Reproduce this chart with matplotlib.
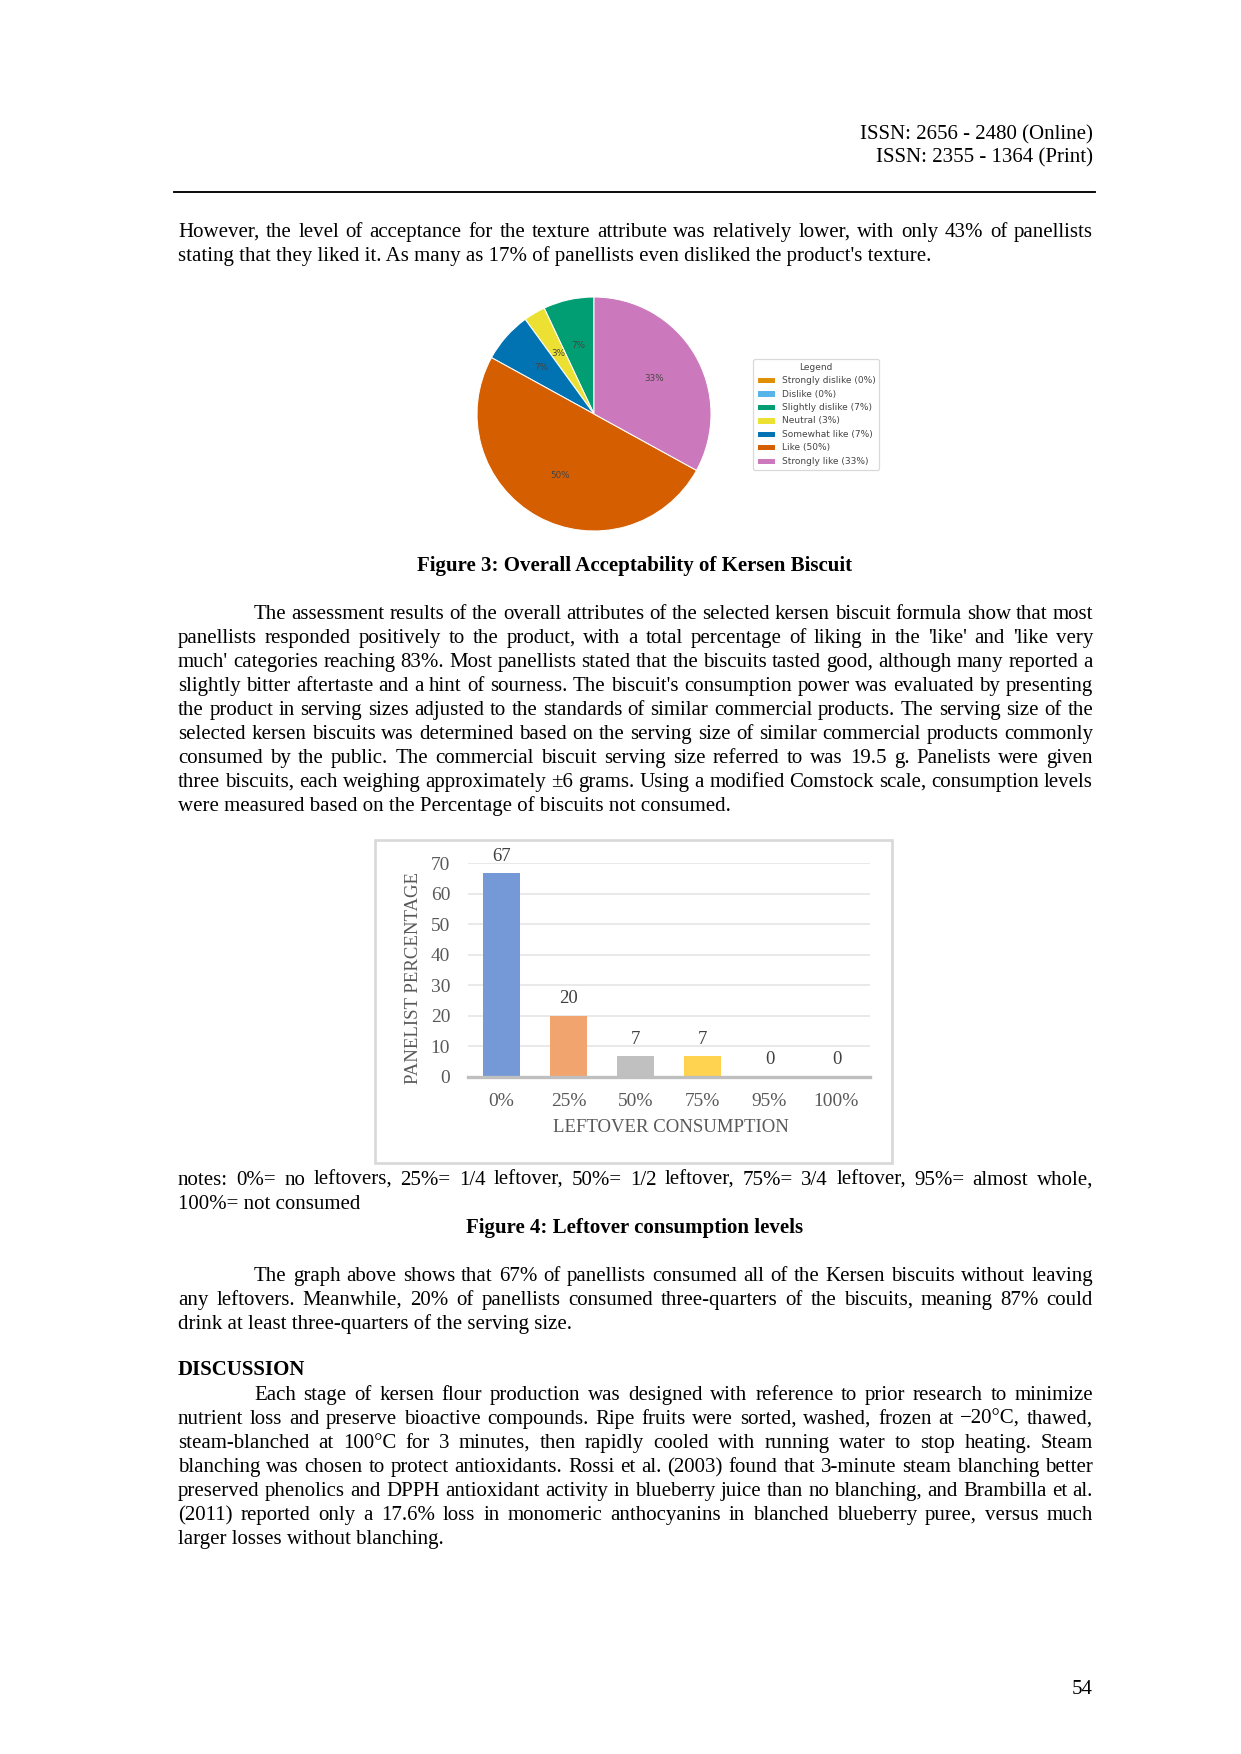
import matplotlib
matplotlib.use("Agg")
import matplotlib.pyplot as plt
from matplotlib.font_manager import FontProperties
from matplotlib.patches import Rectangle
from matplotlib.lines import Line2D

# page size in pixels (A4 at 150 dpi)
W, H = 1241, 1754
DPI = 150

# ---- data: pie chart (overall acceptability) ----
pie_labels = ["Strongly dislike", "Dislike", "Slightly dislike", "Neutral",
              "Somewhat like", "Like", "Strongly like"]
pie_values = [0, 0, 7, 3, 7, 50, 33]
pie_colors = ["#DE8F05", "#56B4E9", "#029E73", "#ECE133", "#0173B2", "#D55E00", "#CC78BC"]

# ---- data: bar chart (leftover consumption) ----
bar_categories = ["0%", "25%", "50%", "75%", "95%", "100%"]
bar_values = [66.7, 20, 6.7, 6.7, 0, 0]
bar_colors = ["#7598D6", "#F2A46F", "#C0C0C0", "#FFD24F", "#7598D6", "#F2A46F"]
bar_ticks = [0, 10, 20, 30, 40, 50, 60, 70]

# ---- page text ----
header = ["ISSN: 2656 - 2480 (Online)", "ISSN: 2355 - 1364 (Print)"]
para1 = ["However, the level of acceptance for the texture attribute was relatively lower, with only 43% of panellists",
         "stating that they liked it. As many as 17% of panellists even disliked the product's texture."]
caption3 = "Figure 3: Overall Acceptability of Kersen Biscuit"
para2 = ["The assessment results of the overall attributes of the selected kersen biscuit formula show that most",
         "panellists responded positively to the product, with a total percentage of liking in the 'like' and 'like very",
         "much' categories reaching 83%. Most panellists stated that the biscuits tasted good, although many reported a",
         "slightly bitter aftertaste and a hint of sourness. The biscuit's consumption power was evaluated by presenting",
         "the product in serving sizes adjusted to the standards of similar commercial products. The serving size of the",
         "selected kersen biscuits was determined based on the serving size of similar commercial products commonly",
         "consumed by the public. The commercial biscuit serving size referred to was 19.5 g. Panelists were given",
         "three biscuits, each weighing approximately ±6 grams. Using a modified Comstock scale, consumption levels",
         "were measured based on the Percentage of biscuits not consumed."]
notes = ["notes: 0%= no leftovers, 25%= 1/4 leftover, 50%= 1/2 leftover, 75%= 3/4 leftover, 95%= almost whole,",
         "100%= not consumed"]
caption4 = "Figure 4: Leftover consumption levels"
para3 = ["The graph above shows that 67% of panellists consumed all of the Kersen biscuits without leaving",
         "any leftovers. Meanwhile, 20% of panellists consumed three-quarters of the biscuits, meaning 87% could",
         "drink at least three-quarters of the serving size."]
para4 = ["Each stage of kersen flour production was designed with reference to prior research to minimize",
         "nutrient loss and preserve bioactive compounds. Ripe fruits were sorted, washed, frozen at −20°C, thawed,",
         "steam-blanched at 100°C for 3 minutes, then rapidly cooled with running water to stop heating. Steam",
         "blanching was chosen to protect antioxidants. Rossi et al. (2003) found that 3-minute steam blanching better",
         "preserved phenolics and DPPH antioxidant activity in blueberry juice than no blanching, and Brambilla et al.",
         "(2011) reported only a 17.6% loss in monomeric anthocyanins in blanched blueberry puree, versus much",
         "larger losses without blanching."]

SERIF = "Liberation Serif"
BODY = 10
LEFT, RIGHT, INDENT = 178, 1093, 254
LINE = 24


def fx(x):
    return x / W


def fy(y):
    return 1 - y / H


fig = plt.figure(figsize=(W / DPI, H / DPI), dpi=DPI)
fig.patch.set_facecolor("white")
renderer = fig.canvas.get_renderer()
body_fp = FontProperties(family=SERIF, size=BODY)


def text_width(s, fp):
    w, h, d = renderer.get_text_width_height_descent(s, fp, ismath=False)
    return w


# Draws a paragraph (baselines), justified lines except the last one
def draw_para(lines, y0, indent=False, justify_last=False):
    for i, line in enumerate(lines):
        y = y0 + i * LINE
        x0 = INDENT if (indent and i == 0) else LEFT
        last = (i == len(lines) - 1) and not justify_last
        if last:
            fig.text(fx(x0), fy(y), line, fontproperties=body_fp, va="baseline", ha="left")
            continue
        words = line.split(" ")
        widths = [text_width(w, body_fp) for w in words]
        gap = (RIGHT - x0 - sum(widths)) / (len(words) - 1)
        x = x0
        for w, ww in zip(words, widths):
            fig.text(fx(x), fy(y), w, fontproperties=body_fp, va="baseline", ha="left")
            x += ww + gap


# header
fig.text(fx(RIGHT), fy(139), header[0], family=SERIF, fontsize=BODY, ha="right", va="baseline")
fig.text(fx(RIGHT), fy(162), header[1], family=SERIF, fontsize=BODY, ha="right", va="baseline")
fig.add_artist(Line2D([fx(174), fx(1095)], [fy(192), fy(192)], color="black", lw=0.9))

draw_para(para1, 237)
fig.text(fx(635), fy(571), caption3, family=SERIF, fontsize=BODY, weight="bold", ha="center", va="baseline")
draw_para(para2, 619, indent=True)
draw_para(notes, 1185)
fig.text(fx(635), fy(1233), caption4, family=SERIF, fontsize=BODY, weight="bold", ha="center", va="baseline")
draw_para(para3, 1281, indent=True)
fig.text(fx(LEFT), fy(1375), "DISCUSSION", family=SERIF, fontsize=BODY, weight="bold", ha="left", va="baseline")
draw_para(para4, 1400, indent=True)
fig.text(fx(RIGHT), fy(1694), "54", family=SERIF, fontsize=BODY, ha="right", va="baseline")

# ---- pie chart ----
cx, cy, r = 594, 414, 117
lim = 1.05
side = 2 * lim * r
ax_pie = fig.add_axes([fx(cx - side / 2), fy(cy + side / 2), side / W, side / H])
wedges, texts, autotexts = ax_pie.pie(
    pie_values, colors=pie_colors, startangle=90,
    autopct=lambda p: f"{p:.0f}%" if p > 0 else "",
    wedgeprops=dict(edgecolor="white", linewidth=0.5),
    textprops=dict(fontsize=4.2, color="#444444"))
ax_pie.set_xlim(-lim, lim)
ax_pie.set_ylim(-lim, lim)
ax_pie.set_aspect("equal")
ax_pie.axis("off")

legend_labels = [f"{l} ({v}%)" for l, v in zip(pie_labels, pie_values)]
leg = ax_pie.legend(wedges, legend_labels, title="Legend", loc="upper left",
                    bbox_to_anchor=(fx(753), fy(359)), bbox_transform=fig.transFigure,
                    fontsize=4.3, title_fontsize=4.3, labelcolor="#444444",
                    borderaxespad=0, frameon=True, edgecolor="#d0d0d0", fancybox=True)
leg.get_title().set_color("#444444")
leg.get_frame().set_linewidth(0.6)

# ---- bar chart ----
fig.add_artist(Rectangle((fx(375), fy(1163)), (892 - 375) / W, (1163 - 840) / H,
                         transform=fig.transFigure, fill=False, edgecolor="#D9D9D9", lw=1.3))
px0, px1, py0, py1 = 468, 870, 1076.7, 863.3
ax = fig.add_axes([fx(px0), fy(py0), (px1 - px0) / W, (py0 - py1) / H])
xpos = range(len(bar_categories))
bars = ax.bar(xpos, bar_values, width=0.55, color=bar_colors[:len(bar_values)], zorder=2)
ax.bar_label(bars, fmt="%.0f", padding=4, fontsize=9, family=SERIF, color="#404040")
ax.set_xlim(-0.5, len(bar_categories) - 0.5)
ax.set_ylim(0, 70)
ax.set_yticks(bar_ticks)
ax.set_xticks(list(xpos))
ax.set_xticklabels(bar_categories)
ax.yaxis.grid(True, color="#E5E5E5", lw=0.8)
ax.set_axisbelow(True)
for s in ["top", "right", "left"]:
    ax.spines[s].set_visible(False)
ax.spines["bottom"].set_color("#BFBFBF")
ax.spines["bottom"].set_linewidth(1.6)
ax.tick_params(axis="both", length=0, labelcolor="#595959", labelsize=9.3)
ax.tick_params(axis="x", pad=8)
ax.tick_params(axis="y", pad=8.5)
for lab in ax.get_xticklabels() + ax.get_yticklabels():
    lab.set_family(SERIF)
fig.text(fx(413.6), fy(978), "PANELIST PERCENTAGE", family=SERIF, fontsize=9, color="#595959",
         rotation=90, ha="center", va="center")
fig.text(fx(671), fy(1128), "LEFTOVER CONSUMPTION", family=SERIF, fontsize=9, color="#595959",
         ha="center", va="center")

fig.savefig("out.png", dpi=DPI, facecolor="white")
